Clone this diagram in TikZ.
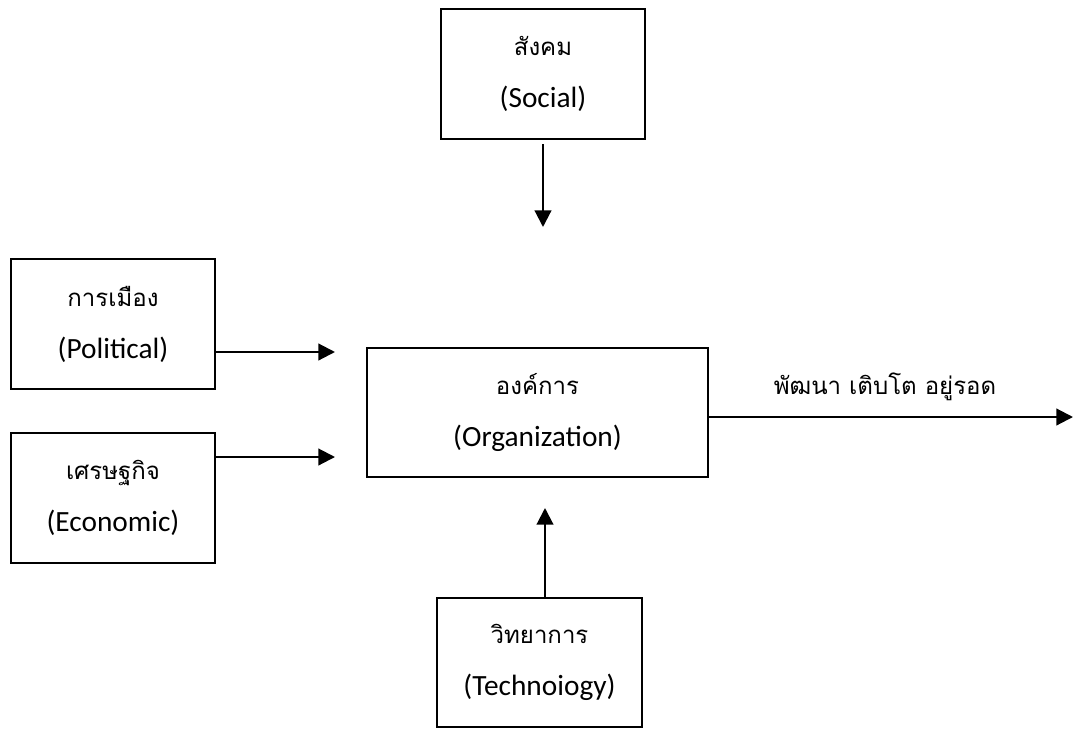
\documentclass[tikz,border=0pt]{standalone}
\usepackage{fontspec}
\setmainfont{Carlito}
\newfontfamily\thaifont[Script=Thai]{Loma}
\usetikzlibrary{arrows.meta}
\tikzset{
  box/.style={draw, line width=1.6pt, rectangle, align=center, inner sep=0pt,
    font=\fontsize{22}{39}\selectfont},
  arr/.style={line width=1.6pt, -{Triangle[length=12.5pt,width=12.5pt]}},
  th/.style={font=\fontsize{18}{39}\thaifont}
}
\newcommand{\thx}[1]{{\fontsize{18}{39}\thaifont #1}}
\begin{document}
\begin{tikzpicture}[x=0.75pt,y=-0.75pt]
\useasboundingbox (0,0) rectangle (1076,729);
\node[box, minimum width=153pt, minimum height=97.5pt] (soc) at (543,74) {\thx{สังคม}\\(Social)};
\node[box, minimum width=153pt, minimum height=97.5pt] (pol) at (113,324) {\thx{การเมือง}\\(Political)};
\node[box, minimum width=153pt, minimum height=97.5pt] (eco) at (113,498) {\thx{เศรษฐกิจ}\\(Economic)};
\node[box, minimum width=255.75pt, minimum height=96.75pt] (org) at (537.5,412.5) {\thx{องค์การ}\\(Organization)};
\node[box, minimum width=153.75pt, minimum height=96.75pt] (tech) at (539.5,662.5) {\thx{วิทยาการ}\\(Technoiogy)};
\coordinate (socend) at (543,227);
\coordinate (polend) at (335,352);
\coordinate (ecoend) at (335,457);
\coordinate (outend) at (1073,417);
\coordinate (techend) at (545,508);
\draw[arr] ([yshift=-3pt]soc.south) -- (socend);
\draw[arr] (pol.east |- polend) -- (polend);
\draw[arr] (eco.east |- ecoend) -- (ecoend);
\draw[arr] (org.east |- outend) -- (outend);
\draw[arr] (tech.north -| techend) -- (techend);
\node[th] (res) at (885,387) {พัฒนา เติบโต อยู่รอด};
\end{tikzpicture}
\end{document}
